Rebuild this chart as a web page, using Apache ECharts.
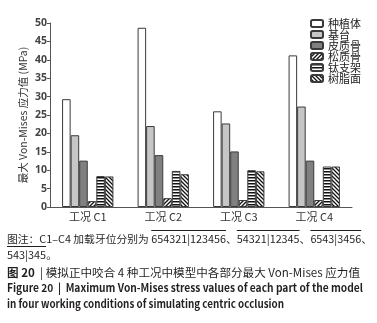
<!DOCTYPE html>
<html>
<head>
<meta charset="utf-8">
<script src="https://cdn.jsdelivr.net/npm/echarts@6/dist/echarts.min.js"></script>
<style>
  html, body { margin: 0; padding: 0; background: #fff; }
  #wrap { position: relative; width: 377px; height: 323px; overflow: hidden; }
  #chart { position: absolute; left: 0; top: 0; width: 377px; height: 323px; }
  .cap { position: absolute; left: 7px; white-space: nowrap; color: #231f20; line-height: 14px;
         transform-origin: 0 50%;
         font-family: "Noto Sans CJK SC", "Noto Sans", sans-serif; }
  .ol { text-decoration: overline; }
</style>
</head>
<body>
<div id="wrap">
  <div id="chart"></div>
  <div class="cap" data-w="365" style="top:232px;font-size:10.5px;">图注：C1–C4 加载牙位分别为 <span class="ol">654321|123456</span>、<span class="ol">54321|12345</span>、<span class="ol">6543|3456</span>、</div>
  <div class="cap" data-w="50" style="top:248px;font-size:10.5px;"><span class="ol">543|345</span>。</div>
  <div class="cap" data-w="353" style="top:265px;font-size:11.5px;"><b>图 20</b> &nbsp;|&nbsp;模拟正中咬合 4 种工况中模型中各部分最大 Von-Mises 应力值</div>
  <div class="cap" data-w="356" style="top:280px;font-size:11px;font-weight:bold;">Figure 20 &nbsp;|&nbsp; Maximum Von-Mises stress values of each part of the model</div>
  <div class="cap" data-w="277" style="top:296px;font-size:11px;font-weight:bold;">in four working conditions of simulating centric occlusion</div>
</div>
<script>
var categories = ['工况 C1', '工况 C2', '工况 C3', '工况 C4'];
var seriesNames = ['种植体', '基台', '皮质骨', '松质骨', '钛支架', '树脂面'];
var implant = [29.3, 48.7, 26.0, 41.2];
var abutment = [19.5, 22.0, 22.7, 27.3];
var cortical = [12.6, 14.1, 15.1, 12.6];
var cancellous = [1.6, 2.4, 1.9, 1.9];
var titanium = [8.4, 9.8, 10.0, 11.0];
var resin = [8.3, 8.9, 9.7, 11.0];

var caps = document.querySelectorAll('.cap');
for (var k = 0; k < caps.length; k++) {
    var w = caps[k].getBoundingClientRect().width;
    var target = +caps[k].getAttribute('data-w');
    caps[k].style.transform = 'scaleX(' + (target / w) + ')';
}

function pattern(kind) {
    var c = document.createElement('canvas');
    var ctx = c.getContext('2d');
    if (kind === 'h') {
        c.width = 4; c.height = 3;
        ctx.fillStyle = '#fff'; ctx.fillRect(0, 0, 4, 3);
        ctx.fillStyle = '#111'; ctx.fillRect(0, 0, 4, 1.5);
    } else {
        c.width = 4; c.height = 4;
        ctx.fillStyle = '#fff'; ctx.fillRect(0, 0, 4, 4);
        ctx.strokeStyle = '#111'; ctx.lineWidth = 1.3;
        ctx.beginPath();
        if (kind === 'f') {
            ctx.moveTo(-1, 5); ctx.lineTo(5, -1);
            ctx.moveTo(-1, 1); ctx.lineTo(1, -1);
            ctx.moveTo(3, 5); ctx.lineTo(5, 3);
        } else {
            ctx.moveTo(-1, -1); ctx.lineTo(5, 5);
            ctx.moveTo(-1, 3); ctx.lineTo(1, 5);
            ctx.moveTo(3, -1); ctx.lineTo(5, 1);
        }
        ctx.stroke();
    }
    return { image: c, repeat: 'repeat' };
}

var fills = ['#ffffff', '#c6c6c6', '#808080', pattern('f'), pattern('h'), pattern('b')];
var values = [implant, abutment, cortical, cancellous, titanium, resin];

var myChart = echarts.init(document.getElementById('chart'));

var series = [];
for (var i = 0; i < seriesNames.length; i++) {
    series.push({
        name: seriesNames[i],
        type: 'bar',
        barGap: '0%',
        barCategoryGap: '32%',
        itemStyle: {
            color: fills[i],
            borderColor: '#3a3a3a',
            borderWidth: 1
        },
        data: values[i]
    });
}

var option = {
    animation: false,
    grid: { left: 50, right: 25, top: 23, bottom: 116 },
    legend: {
        orient: 'vertical',
        left: 310,
        top: 18,
        padding: 0,
        itemWidth: 12,
        itemHeight: 7,
        itemGap: 0,
        textStyle: {
            fontFamily: 'Noto Sans CJK SC',
            fontSize: 11,
            lineHeight: 11,
            color: '#222'
        },
        data: seriesNames
    },
    xAxis: {
        type: 'category',
        data: categories,
        axisTick: { show: false },
        axisLine: { lineStyle: { color: '#555', width: 1 } },
        axisLabel: {
            margin: 4,
            fontFamily: 'Noto Sans CJK SC',
            fontSize: 11,
            color: '#333'
        }
    },
    yAxis: {
        type: 'value',
        min: 0,
        max: 50,
        interval: 5,
        name: '最大 Von-Mises 应力值 (MPa)',
        nameLocation: 'middle',
        nameRotate: 90,
        nameGap: 22,
        nameMoveOverlap: false,
        nameTextStyle: {
            fontFamily: 'Noto Sans CJK SC',
            fontSize: 10.5,
            color: '#333'
        },
        axisLine: { show: true, lineStyle: { color: '#555', width: 1 } },
        axisTick: { show: true, length: 3, lineStyle: { color: '#555' } },
        splitLine: { show: false },
        axisLabel: {
            margin: 3,
            fontFamily: 'Noto Sans',
            fontWeight: 'bold',
            fontSize: 10.5,
            color: '#444'
        }
    },
    series: series
};

myChart.setOption(option);
</script>
</body>
</html>
